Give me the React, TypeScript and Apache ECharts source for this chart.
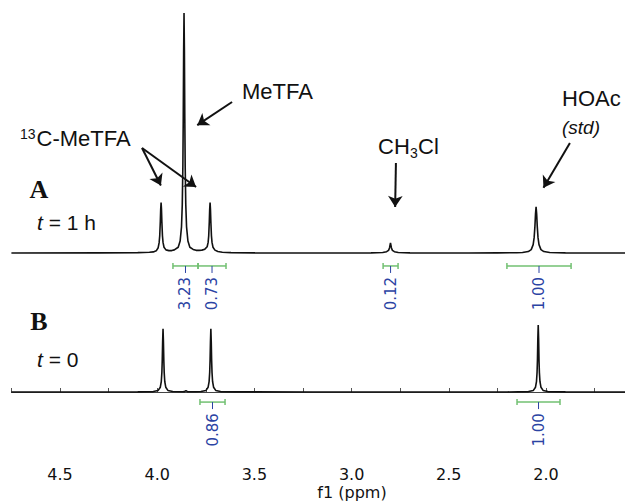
import React, { useEffect, useRef } from "react";
import * as echarts from "echarts";

// Spectrum A (t = 1 h): [ppm, intensity]
const traceA: [number, number][] = [
  [4.75, 0], [4.3, 0.05], [4.1, 0.15], [4.04, 0.3], [4.02, 0.45], [4.005, 0.9], [3.995, 2.2], [3.99, 4.3],
  [3.987, 7.2], [3.984, 13], [3.982, 18.2], [3.98, 21], [3.978, 18.2], [3.976, 13], [3.973, 7.2], [3.97, 4.4],
  [3.965, 2.4], [3.955, 1.3], [3.94, 1.0], [3.925, 1.0], [3.912, 1.3], [3.892, 2.4], [3.882, 5.0], [3.875, 10.9],
  [3.871, 20.2], [3.868, 36], [3.866, 56], [3.864, 84], [3.862, 100], [3.86, 84], [3.858, 56], [3.856, 36],
  [3.853, 20.2], [3.849, 10.9], [3.842, 5.0], [3.832, 2.4], [3.815, 1.5], [3.8, 1.1], [3.785, 1.1], [3.77, 1.2],
  [3.755, 1.6], [3.743, 2.6], [3.738, 4.4], [3.735, 7.2], [3.732, 13], [3.73, 18.2], [3.728, 21], [3.726, 18.2],
  [3.724, 13], [3.721, 7.2], [3.718, 4.4], [3.713, 2.4], [3.703, 1.2], [3.688, 0.6], [3.665, 0.3], [3.62, 0.15],
  [3.5, 0.05], [3.2, 0], [2.9, 0.05], [2.84, 0.2], [2.82, 0.55], [2.81, 1.1], [2.805, 2.1], [2.802, 3.4],
  [2.8, 4.2], [2.798, 3.4], [2.795, 2.1], [2.79, 1.1], [2.78, 0.55], [2.76, 0.2], [2.7, 0.05], [2.4, 0],
  [2.25, 0.05], [2.15, 0.1], [2.121, 0.2], [2.091, 0.6], [2.076, 1.4], [2.066, 3.5], [2.061, 6.4], [2.057, 11.1],
  [2.054, 16.2], [2.051, 19.2], [2.048, 16.2], [2.045, 11.1], [2.041, 6.4], [2.036, 3.5], [2.026, 1.4], [2.011, 0.6],
  [1.981, 0.2], [1.9, 0.05], [1.5, 0],
];

// Spectrum B (t = 0): [ppm, intensity]
const traceB: [number, number][] = [
  [4.75, 0], [4.1, 0.05], [4.02, 0.17], [3.995, 0.66], [3.984, 2.0], [3.979, 4.3], [3.976, 8.1], [3.974, 13.2],
  [3.972, 21], [3.97, 26.3], [3.968, 21], [3.966, 13.2], [3.964, 8.1], [3.961, 4.3], [3.956, 2.0], [3.945, 0.66],
  [3.92, 0.2], [3.87, 0.1], [3.86, 0.15], [3.852, 0.55], [3.844, 0.15], [3.8, 0.1], [3.775, 0.2], [3.749, 0.66],
  [3.738, 2.0], [3.733, 4.3], [3.73, 8.1], [3.728, 13.2], [3.726, 21], [3.724, 26.3], [3.722, 21], [3.72, 13.2],
  [3.718, 8.1], [3.715, 4.3], [3.71, 2.0], [3.699, 0.66], [3.674, 0.17], [3.6, 0.05], [3.2, 0], [2.2, 0.02],
  [2.09, 0.17], [2.065, 0.66], [2.054, 2.0], [2.049, 4.3], [2.046, 8.1], [2.044, 13.2], [2.042, 22.3], [2.04, 27.9],
  [2.038, 22.3], [2.036, 13.2], [2.034, 8.1], [2.031, 4.3], [2.026, 2.0], [2.015, 0.66], [1.99, 0.17], [1.9, 0.05],
  [1.5, 0],
];

// Integral regions: [from ppm, to ppm, integral]
const integralsA: [number, number, number][] = [
  [3.919, 3.79, 3.23],
  [3.79, 3.646, 0.73],
  [2.838, 2.761, 0.12],
  [2.201, 1.871, 1.0],
];
const integralsB: [number, number, number][] = [
  [3.78, 3.651, 0.86],
  [2.149, 1.928, 1.0],
];

// x axis (ppm)
const ppmMin = 1.5;
const ppmMax = 4.75;
const tickStep = 0.25;

// Annotation arrows in spectrum A coordinates: [[fromPpm, fromY], [toPpm, toY]]
const arrowsA: [[number, number], [number, number]][] = [
  [[3.615, 62.9], [3.794, 53.25]],
  [[4.078, 43.75], [3.981, 28.1]],
  [[4.078, 43.75], [3.8, 27.5]],
  [[2.772, 37.5], [2.776, 19.2]],
  [[1.877, 45.8], [2.013, 27.2]],
];

const BLUE = "#2b43a3";
const GREEN = "#72c072";
const INK = "#111111";
const SANS = "'Liberation Sans', Arial, sans-serif";
const SERIF = "'Liberation Serif', 'Times New Roman', serif";
const AXISFONT = "'DejaVu Sans', sans-serif";

function integralSeries(data: [number, number, number][], idx: number, level: number) {
  return {
    type: "custom",
    xAxisIndex: idx,
    yAxisIndex: idx,
    data,
    silent: true,
    clip: false,
    encode: { x: [0, 1], y: 2 },
    renderItem: (_params: any, api: any) => {
      const f = api.value(0);
      const t = api.value(1);
      const a = api.coord([f, level]);
      const b = api.coord([t, level]);
      const m = api.coord([(f + t) / 2, level]);
      const label = Number(api.value(2)).toFixed(2);
      const g = { stroke: GREEN, lineWidth: 1.5 };
      return {
        type: "group",
        children: [
          { type: "line", shape: { x1: a[0], y1: a[1], x2: b[0], y2: b[1] }, style: g },
          { type: "line", shape: { x1: a[0], y1: a[1] - 3, x2: a[0], y2: a[1] + 3 }, style: g },
          { type: "line", shape: { x1: b[0], y1: b[1] - 3, x2: b[0], y2: b[1] + 3 }, style: g },
          { type: "line", shape: { x1: m[0], y1: m[1], x2: m[0], y2: m[1] + 7 }, style: { stroke: BLUE, lineWidth: 1 } },
          {
            type: "text",
            x: m[0],
            y: m[1] + 11,
            rotation: Math.PI / 2,
            style: {
              text: label,
              align: "right",
              verticalAlign: "middle",
              textAlign: "right",
              textVerticalAlign: "middle",
              fill: BLUE,
              fontSize: 15,
              fontFamily: AXISFONT,
            },
          },
        ],
      };
    },
  };
}

function txt(text: string, x: number, y: number, extra: any = {}, align = "left") {
  return {
    type: "text",
    x,
    y,
    silent: true,
    style: {
      text,
      fill: INK,
      fontSize: 22,
      fontFamily: SANS,
      align,
      verticalAlign: "middle",
      textAlign: align,
      textVerticalAlign: "middle",
      ...extra,
    },
  };
}

export default function App() {
  const ref = useRef<HTMLDivElement>(null);
  useEffect(() => {
    if (!ref.current) return;
    const chart = echarts.init(ref.current, null, { renderer: "svg" });
    const gridW = (ppmMax - ppmMin) * 194.4;
    chart.setOption({
      animation: false,
      backgroundColor: "#ffffff",
      grid: [
        { left: 11.4, width: gridW, top: 13, height: 312, outerBoundsMode: "none", containLabel: false },
        { left: 11.4, width: gridW, top: 320, height: 132, outerBoundsMode: "none", containLabel: false },
      ],
      xAxis: [
        { gridIndex: 0, type: "value", min: ppmMin, max: ppmMax, inverse: true, show: false },
        {
          gridIndex: 1,
          type: "value",
          min: ppmMin,
          max: ppmMax,
          interval: tickStep,
          inverse: true,
          axisLine: { lineStyle: { color: "#444", width: 1 } },
          axisTick: { inside: true, length: 4, interval: 0, lineStyle: { color: "#555" } },
          splitLine: { show: false },
          axisLabel: {
            interval: 0,
            margin: 14,
            color: INK,
            fontSize: 16,
            fontFamily: AXISFONT,
            formatter: (v: number) =>
              Math.abs(v * 2 - Math.round(v * 2)) < 1e-6 && v < 4.7 && v > 1.6 ? v.toFixed(1) : "",
          },
        },
      ],
      yAxis: [
        { gridIndex: 0, type: "value", min: -30, max: 100, show: false },
        { gridIndex: 1, type: "value", min: -25, max: 30, show: false },
      ],
      series: [
        {
          type: "line",
          xAxisIndex: 0,
          yAxisIndex: 0,
          data: traceA,
          showSymbol: false,
          symbol: "none",
          clip: false,
          lineStyle: { color: INK, width: 1.6 },
          markLine: {
            silent: true,
            symbol: ["none", "arrow"],
            symbolSize: 11,
            label: { show: false },
            lineStyle: { color: INK, width: 2, type: "solid" },
            data: arrowsA.map(([s, e]) => [{ coord: s }, { coord: e }]),
          },
        },
        {
          type: "line",
          xAxisIndex: 1,
          yAxisIndex: 1,
          data: traceB,
          showSymbol: false,
          symbol: "none",
          clip: false,
          lineStyle: { color: INK, width: 1.6 },
        },
        integralSeries(integralsA, 0, -5.4),
        integralSeries(integralsB, 1, -4.2),
      ],
      graphic: [
        txt("MeTFA", 242, 91),
        txt("{sup|13}C-MeTFA", 20, 138, {
          rich: { sup: { fontSize: 14, fontFamily: SANS, fill: INK, verticalAlign: "top", padding: [0, 1, 8, 0] } },
        }),
        txt("CH", 378, 146),
        txt("3", 410, 153, { fontSize: 14 }),
        txt("Cl", 418, 146),
        txt("HOAc", 562, 98),
        txt("(std)", 562, 127, { fontSize: 19, fontStyle: "italic" }),
        txt("A", 39, 189, { fontSize: 26, fontWeight: "bold", fontFamily: SERIF }, "center"),
        txt("{i|t} = 1 h", 37, 222, {
          fontSize: 21,
          rich: { i: { fontSize: 21, fontFamily: SANS, fontStyle: "italic", fill: INK } },
        }),
        txt("B", 39, 321, { fontSize: 26, fontWeight: "bold", fontFamily: SERIF }, "center"),
        txt("{i|t} = 0", 37, 359, {
          fontSize: 21,
          rich: { i: { fontSize: 21, fontFamily: SANS, fontStyle: "italic", fill: INK } },
        }),
        txt("f1 (ppm)", 352, 492, { fontSize: 16, fontFamily: AXISFONT }, "center"),
      ],
    });
    return () => chart.dispose();
  }, []);
  return (
    <div
      ref={ref}
      style={{ position: "fixed", left: 0, top: 0, width: 625, height: 501, background: "#fff" }}
    />
  );
}
